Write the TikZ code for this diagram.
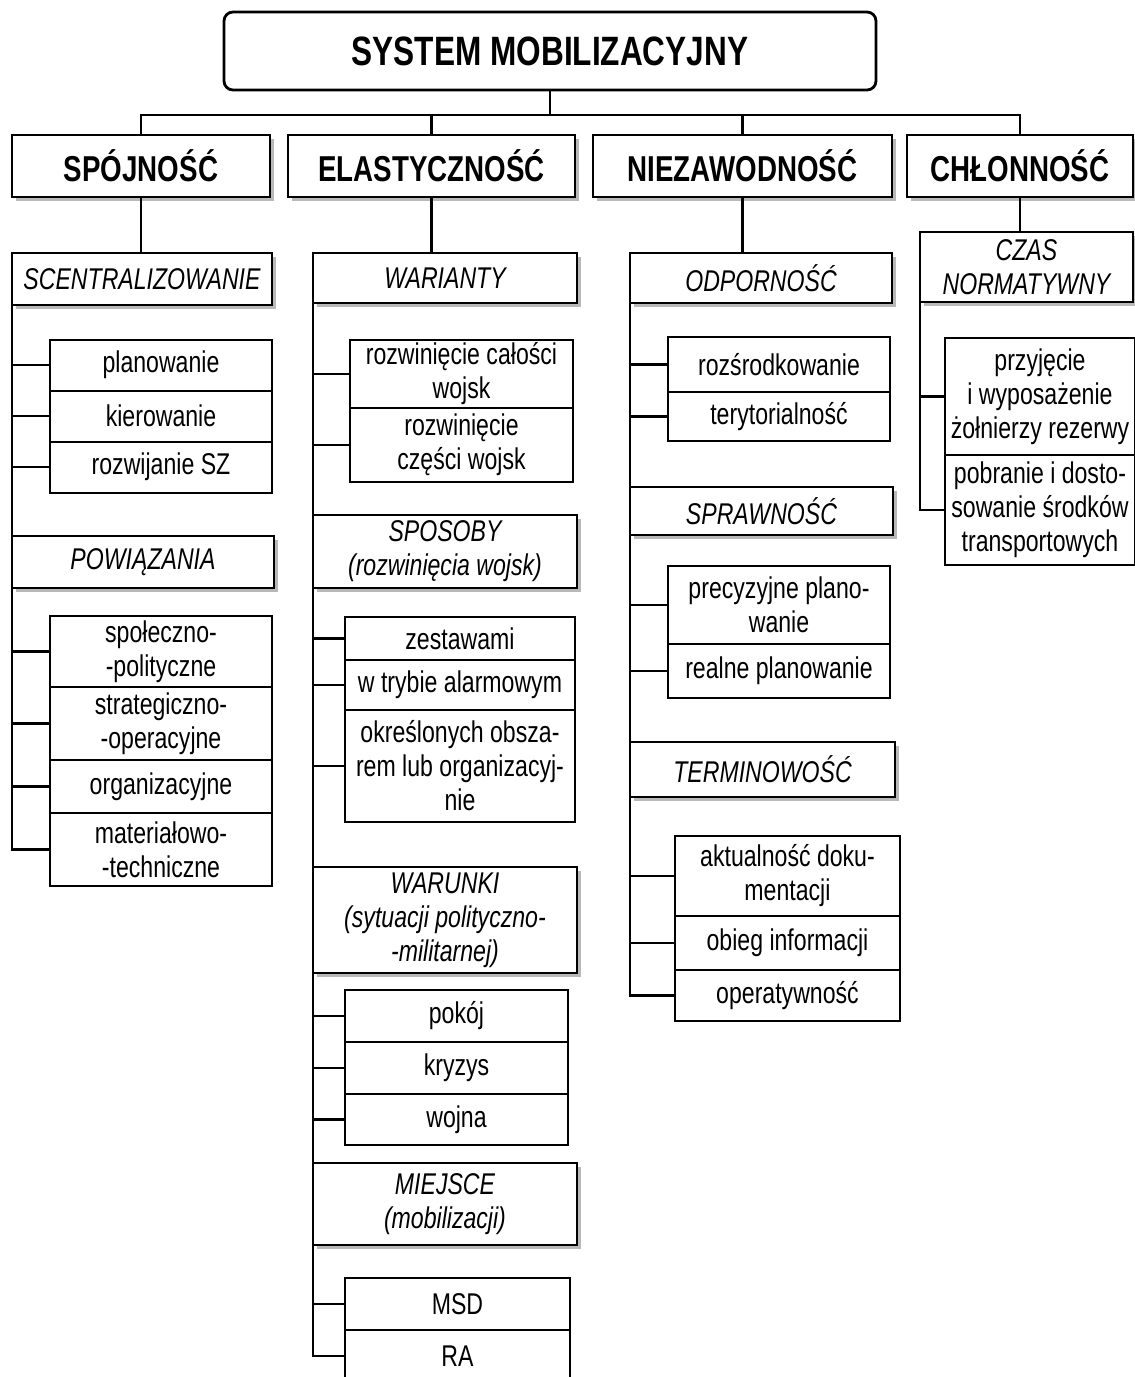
\documentclass[tikz,border=0pt]{standalone}
\usepackage{fontspec}
\setmainfont[FakeStretch=0.77]{Liberation Sans}
\usetikzlibrary{positioning,shadows}
\tikzset{every node/.style={align=center, inner sep=0pt, outer sep=0pt},
  link/.style={line width=2.2pt},
  titlebox/.style={draw, rounded corners=9pt, line width=2.8pt, minimum width=652, minimum height=78, font=\bfseries\fontsize{41}{45}\selectfont},
  mainbox/.style={draw, fill=white, line width=2.3pt, minimum height=62, font=\bfseries\fontsize{36}{40}\selectfont,
    drop shadow={shadow xshift=4pt, shadow yshift=-4pt, opacity=1, fill=gray!55}},
  headbox/.style={draw, fill=white, line width=2.3pt, font=\itshape\fontsize{30}{34}\selectfont,
    drop shadow={shadow xshift=4pt, shadow yshift=-4pt, opacity=1, fill=gray!55}},
  leafbox/.style={draw, fill=white, line width=2pt, font=\fontsize{30}{34}\selectfont}}

\begin{document}
\begin{tikzpicture}[x=1pt, y=-1pt]
   \useasboundingbox (0,0) rectangle (1135,1377);
   \node[titlebox] (sys) at (550,51) {SYSTEM MOBILIZACYJNY};
   \node[mainbox, minimum width=258] (spoj) at (141,166) {SPÓJNOŚĆ};
   \node[mainbox, minimum width=287] (elast) at (431.5,166) {ELASTYCZNOŚĆ};
   \node[mainbox, minimum width=299] (niez) at (742.5,166) {NIEZAWODNOŚĆ};
   \node[mainbox, minimum width=226] (chlon) at (1020,166) {CHŁONNOŚĆ};
   \coordinate (bus) at (0,115);
   \draw[link] (spoj.north) -- (spoj.north |- bus) -- (chlon.north |- bus) -- (chlon.north);
   \draw[link] (sys.south) -- (sys.south |- bus);
   \draw[link] (elast.north) -- (elast.north |- bus);
   \draw[link] (niez.north) -- (niez.north |- bus);
   \begin{scope}[leafbox/.append style={minimum width=222}]
    \node[headbox, minimum width=260, minimum height=52] (scen) at (142,279) {SCENTRALIZOWANIE};
    \node[leafbox, minimum height=51] (plan) at (161,365) {planowanie};
    \node[leafbox, minimum height=51, below=0pt of plan] (kier) {kierowanie};
    \node[leafbox, minimum height=51, below=0pt of kier] (rozw) {rozwijanie SZ};
    \node[headbox, minimum width=262, minimum height=52] (pow) at (143,562) {POWIĄZANIA};
    \node[leafbox, minimum height=71] (spol) at (161,651.5) {społeczno-\\-polityczne};
    \node[leafbox, minimum height=73, below=0pt of spol] (strat) {strategiczno-\\-operacyjne};
    \node[leafbox, minimum height=53, below=0pt of strat] (org) {organizacyjne};
    \node[leafbox, minimum height=73, below=0pt of org] (mat) {materiałowo-\\-techniczne};
    \draw[link] (spoj.south) -- (spoj.south |- scen.north);
    \draw[link] (scen.south west) |- (mat.west);
    \draw[link] (plan.west) -- (plan.west -| scen.west);
    \draw[link] (kier.west) -- (kier.west -| scen.west);
    \draw[link] (rozw.west) -- (rozw.west -| scen.west);
    \draw[link] (spol.west) -- (spol.west -| scen.west);
    \draw[link] (strat.west) -- (strat.west -| scen.west);
    \draw[link] (org.west) -- (org.west -| scen.west);
   \end{scope}
   \begin{scope}[headbox/.append style={minimum width=264}]
    \node[headbox, minimum height=50] (war) at (445,278) {WARIANTY};
    \node[leafbox, minimum width=223, minimum height=68] (rc) at (461.5,374) {rozwinięcie całości\\wojsk};
    \node[leafbox, minimum width=223, minimum height=74, below=0pt of rc] (rcz) {rozwinięcie\\części wojsk};
    \node[headbox, minimum height=73] (spos) at (445,551.5) {SPOSOBY\\(rozwinięcia wojsk)};
    \node[leafbox, minimum width=230, minimum height=43] (zest) at (460,638.5) {zestawami};
    \node[leafbox, minimum width=230, minimum height=50, below=0pt of zest] (alarm) {w trybie alarmowym};
    \node[leafbox, minimum width=230, minimum height=112, below=0pt of alarm] (okr) {określonych obsza-\\rem lub organizacyj-\\nie};
    \node[headbox, minimum height=106] (warun) at (445,920) {WARUNKI\\(sytuacji polityczno-\\-militarnej)};
    \node[leafbox, minimum width=223, minimum height=52] (pokoj) at (456.5,1016) {pokój};
    \node[leafbox, minimum width=223, minimum height=52, below=0pt of pokoj] (kryz) {kryzys};
    \node[leafbox, minimum width=223, minimum height=51, below=0pt of kryz] (wojna) {wojna};
    \node[headbox, minimum height=82] (miej) at (445,1204) {MIEJSCE\\(mobilizacji)};
    \node[leafbox, minimum width=225, minimum height=52] (msd) at (457.5,1304) {MSD};
    \node[leafbox, minimum width=225, minimum height=52, below=0pt of msd] (ra) {RA};
    \draw[link] (elast.south) -- (elast.south |- war.north);
    \draw[link] (war.south west) |- (ra.west);
    \draw[link] (rc.west) -- (rc.west -| war.west);
    \draw[link] (rcz.west) -- (rcz.west -| war.west);
    \draw[link] (zest.west) -- (zest.west -| war.west);
    \draw[link] (alarm.west) -- (alarm.west -| war.west);
    \draw[link] (okr.west) -- (okr.west -| war.west);
    \draw[link] (pokoj.west) -- (pokoj.west -| war.west);
    \draw[link] (kryz.west) -- (kryz.west -| war.west);
    \draw[link] (wojna.west) -- (wojna.west -| war.west);
    \draw[link] (msd.west) -- (msd.west -| war.west);
   \end{scope}
   \begin{scope}[leafbox/.append style={minimum width=222}]
    \node[headbox, minimum width=262, minimum height=50] (odp) at (761,278) {ODPORNOŚĆ};
    \node[leafbox, minimum height=55] (rozs) at (779,364.5) {rozśrodkowanie};
    \node[leafbox, minimum height=49, below=0pt of rozs] (tery) {terytorialność};
    \node[headbox, minimum width=263, minimum height=48] (spraw) at (761.5,511) {SPRAWNOŚĆ};
    \node[leafbox, minimum height=78] (prec) at (779,605) {precyzyjne plano-\\wanie};
    \node[leafbox, minimum height=54, below=0pt of prec] (real) {realne planowanie};
    \node[headbox, minimum width=265, minimum height=55] (term) at (762.5,769.5) {TERMINOWOŚĆ};
    \node[leafbox, minimum width=225, minimum height=80] (akt) at (787.5,876) {aktualność doku-\\mentacji};
    \node[leafbox, minimum width=225, minimum height=54, below=0pt of akt] (obieg) {obieg informacji};
    \node[leafbox, minimum width=225, minimum height=51, below=0pt of obieg] (oper) {operatywność};
    \draw[link] (niez.south) -- (niez.south |- odp.north);
    \draw[link] (odp.south west) |- (oper.west);
    \draw[link] (rozs.west) -- (rozs.west -| odp.west);
    \draw[link] (tery.west) -- (tery.west -| odp.west);
    \draw[link] (prec.west) -- (prec.west -| odp.west);
    \draw[link] (real.west) -- (real.west -| odp.west);
    \draw[link] (akt.west) -- (akt.west -| odp.west);
    \draw[link] (obieg.west) -- (obieg.west -| odp.west);
   \end{scope}
   \begin{scope}[leafbox/.append style={minimum width=190}]
    \node[headbox, minimum width=213, minimum height=70] (czas) at (1026.5,267) {CZAS\\NORMATYWNY};
    \node[leafbox, minimum height=117] (przyj) at (1040,396.5) {przyjęcie\\i wyposażenie\\żołnierzy rezerwy};
    \node[leafbox, minimum height=110, below=0pt of przyj] (pobr) {pobranie i dosto-\\sowanie środków\\transportowych};
    \draw[link] (chlon.south) -- (chlon.south |- czas.north);
    \draw[link] (czas.south west) |- (pobr.west);
    \draw[link] (przyj.west) -- (przyj.west -| czas.west);
   \end{scope}
\end{tikzpicture}
\end{document}
